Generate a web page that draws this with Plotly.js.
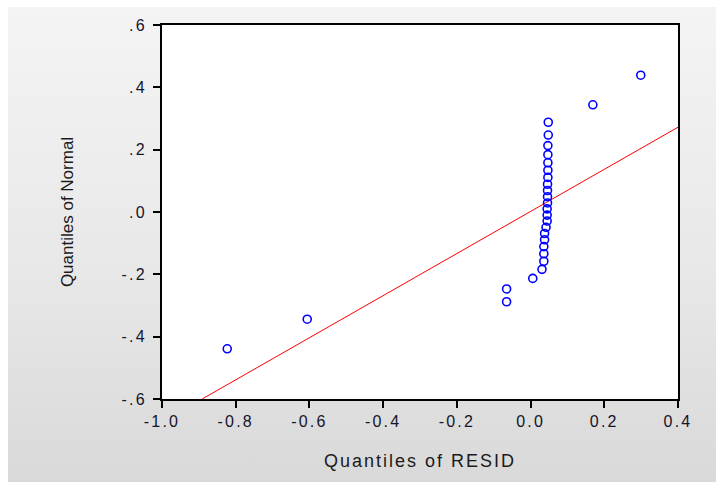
<!DOCTYPE html>
<html>
<head>
<meta charset="utf-8">
<script src="https://cdn.plot.ly/plotly-3.0.1.min.js"></script>
<style>
  html, body { margin: 0; padding: 0; width: 716px; height: 482px; background: #ffffff; overflow: hidden; }
  #bg { position: absolute; left: 8px; top: 7px; right: 0; bottom: 0;
        background: linear-gradient(to bottom, #f4f4f4 0%, #e8e8e8 55%, #d9d9d9 100%); }
  #chart { position: absolute; left: 0; top: 0; width: 716px; height: 482px; }
  #chart .xtick text, #chart .ytick text { letter-spacing: 2.2px; }
  #chart .g-xtitle text { letter-spacing: 2px; }
</style>
</head>
<body>
<div id="bg"></div>
<div id="chart"></div>
<script>
// Quantiles of RESID (x) vs Quantiles of Normal (y)
const residQuantiles = [-0.823, -0.606, -0.065, -0.065, 0.006, 0.031, 0.036, 0.036, 0.036, 0.038,
                        0.038, 0.042, 0.045, 0.045, 0.045, 0.046, 0.046, 0.046, 0.046, 0.047,
                        0.047, 0.047, 0.047, 0.047, 0.048, 0.048, 0.169, 0.299];
const normalQuantiles = [-0.439, -0.344, -0.288, -0.247, -0.213, -0.184, -0.158, -0.134, -0.111, -0.089,
                         -0.069, -0.049, -0.029, -0.010, 0.010, 0.029, 0.049, 0.069, 0.089, 0.111,
                         0.134, 0.158, 0.184, 0.213, 0.247, 0.288, 0.344, 0.439];
// Reference line endpoints
const lineX = [-0.891, 0.4];
const lineY = [-0.6, 0.272];

const xTickVals = [-1.0, -0.8, -0.6, -0.4, -0.2, 0.0, 0.2, 0.4];
const xTickText = ["-1.0", "-0.8", "-0.6", "-0.4", "-0.2", "0.0", "0.2", "0.4"];
const yTickVals = [0.6, 0.4, 0.2, 0.0, -0.2, -0.4, -0.6];
const yTickText = [".6", ".4", ".2", ".0", "-.2", "-.4", "-.6"];

const fontFam = "Liberation Sans, Arial, sans-serif";
const textCol = '#14142a';

const traces = [
  {
    x: lineX, y: lineY, type: 'scatter', mode: 'lines',
    line: { color: '#ff0000', width: 1 }, hoverinfo: 'skip', showlegend: false
  },
  {
    x: residQuantiles, y: normalQuantiles, type: 'scatter', mode: 'markers',
    marker: { symbol: 'circle-open', size: 8, color: '#0000ff', line: { width: 1.6, color: '#0000ff' } },
    showlegend: false
  }
];

const layout = {
  width: 716, height: 482,
  paper_bgcolor: 'rgba(0,0,0,0)',
  plot_bgcolor: '#ffffff',
  margin: { l: 162, r: 38, t: 25, b: 83 },
  font: { family: fontFam, size: 16, color: textCol },
  xaxis: {
    range: [-1.0, 0.4], tickvals: xTickVals, ticktext: xTickText,
    ticks: 'outside', ticklen: 7, tickwidth: 2, tickcolor: '#000',
    showline: true, linecolor: '#000', linewidth: 2, mirror: true,
    showgrid: false, zeroline: false,
    tickfont: { family: fontFam, size: 16, color: textCol },
    title: { text: 'Quantiles of RESID', standoff: 25, font: { family: fontFam, size: 18, color: '#1a1a1a' } }
  },
  yaxis: {
    range: [-0.6, 0.6], tickvals: yTickVals, ticktext: yTickText,
    ticks: 'outside', ticklen: 7, tickwidth: 2, tickcolor: '#000',
    showline: true, linecolor: '#000', linewidth: 2, mirror: true,
    showgrid: false, zeroline: false, ticklabelstandoff: 3,
    tickfont: { family: fontFam, size: 16, color: textCol },
    title: { text: 'Quantiles of Normal', standoff: 50, font: { family: fontFam, size: 17, color: '#1a1a1a' } }
  }
};

Plotly.newPlot('chart', traces, layout, { displayModeBar: false, staticPlot: true });
</script>
</body>
</html>
